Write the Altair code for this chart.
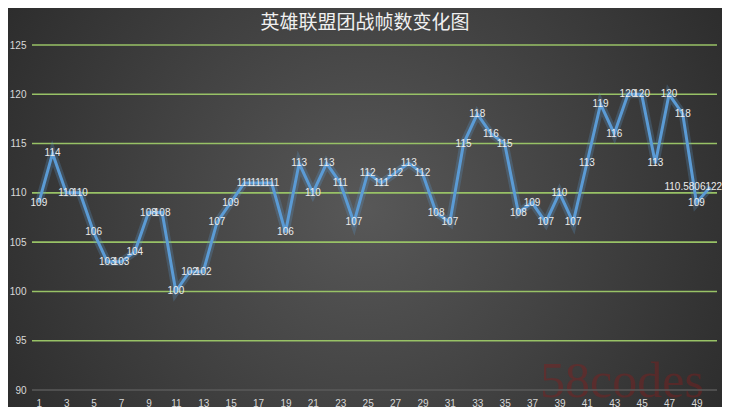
import altair as alt
import pandas as pd

# ---- data ----
title_text = "英雄联盟团战帧数变化图"
battles = list(range(1, 51))
fps = [109, 114, 110, 110, 106, 103, 103, 104, 108, 108,
       100, 102, 102, 107, 109, 111, 111, 111, 106, 113,
       110, 113, 111, 107, 112, 111, 112, 113, 112, 108,
       107, 115, 118, 116, 115, 108, 109, 107, 110, 107,
       113, 119, 116, 120, 120, 113, 120, 118, 109, 110.5806122]
y_ticks = [90, 95, 100, 105, 110, 115, 120, 125]
x_ticks = list(range(1, 50, 2))
watermark = "58codes"


def fmt(v):
    return "%d" % v if float(v).is_integer() else str(v)


df = pd.DataFrame({"battle": battles, "fps": fps, "label": [fmt(v) for v in fps]})
grid_df = pd.DataFrame({"g": y_ticks, "base": [t == y_ticks[0] for t in y_ticks]})
one = pd.DataFrame({"k": [0]})
wm_df = pd.DataFrame({"t": [watermark]})
title_df = pd.DataFrame({"t": [title_text]})

W, H = 685, 345
PAD = {"left": 24, "top": 37, "right": 5, "bottom": 17}

xscale = alt.Scale(domain=[0.5, 50.5], nice=False, zero=False)
yscale = alt.Scale(domain=[90, 125], nice=False, zero=False)

x_axis = alt.Axis(values=x_ticks, labelColor="#d9d9d9", labelFontSize=10,
                  labelFont="Liberation Sans", ticks=False, domain=False,
                  grid=False, labelPadding=13, labelBaseline="middle",
                  labelFlush=False, labelOverlap=False, zindex=1)
y_axis = alt.Axis(values=y_ticks, labelColor="#d9d9d9", labelFontSize=10,
                  labelFont="Liberation Sans", ticks=False, domain=False,
                  grid=False, labelPadding=6, labelOverlap=False, zindex=1)


def X():
    return alt.X("battle:Q", scale=xscale, title=None, axis=x_axis)


def Y(field="fps:Q"):
    return alt.Y(field, scale=yscale, title=None, axis=y_axis)


bg = alt.Chart(one).mark_rect(
    fill=alt.RadialGradient(
        gradient="radial", x1=0.5, y1=0.5, r1=0, x2=0.5, y2=0.5, r2=0.72,
        stops=[alt.GradientStop(offset=0, color="#585858"),
               alt.GradientStop(offset=1, color="#222222")]),
    strokeWidth=0,
).encode(
    x=alt.value(-PAD["left"]), x2=alt.value(W + PAD["right"]),
    y=alt.value(-PAD["top"]), y2=alt.value(H + PAD["bottom"]),
)

title = alt.Chart(title_df).mark_text(
    font="Noto Sans CJK SC", fontSize=19, color="#f0f0f0",
    align="center", baseline="middle",
).encode(text="t:N", x=alt.value(333), y=alt.value(-22))

wm = alt.Chart(wm_df).mark_text(
    font="Liberation Serif", fontSize=50, color="#8a1c1c", opacity=0.4,
    align="center", baseline="middle",
).encode(text="t:N", x=alt.value(590), y=alt.value(337))

grid = alt.Chart(grid_df).mark_rule(strokeWidth=1.6).encode(
    y=Y("g:Q"),
    color=alt.condition("datum.base", alt.value("#5a5a5a"), alt.value("#98c266")),
)

glow = alt.Chart(df).mark_line(color="#5b9bd5", strokeWidth=8, opacity=0.25).encode(
    x=X(), y=Y(),
)

line = alt.Chart(df).mark_line(color="#5b9bd5", strokeWidth=3).encode(
    x=X(), y=Y(),
)

labels = alt.Chart(df).mark_text(
    color="#ececec", fontSize=10, font="Liberation Sans",
    align="center", baseline="middle",
).encode(x=X(), y=Y(), text="label:N").transform_filter("datum.battle < 50")

last_label = alt.Chart(df).mark_text(
    color="#ececec", fontSize=10, font="Liberation Sans",
    align="right", baseline="middle", dx=12,
).encode(x=X(), y=Y(), text="label:N").transform_filter("datum.battle == 50")

chart = alt.layer(bg, title, wm, grid, glow, line, labels, last_label).properties(
    width=W, height=H, padding=PAD,
    autosize=alt.AutoSizeParams(type="none"),
).configure(background="#262626").configure_view(stroke=None)

chart.save("out.html", embed_options={"renderer": "svg", "actions": False})
